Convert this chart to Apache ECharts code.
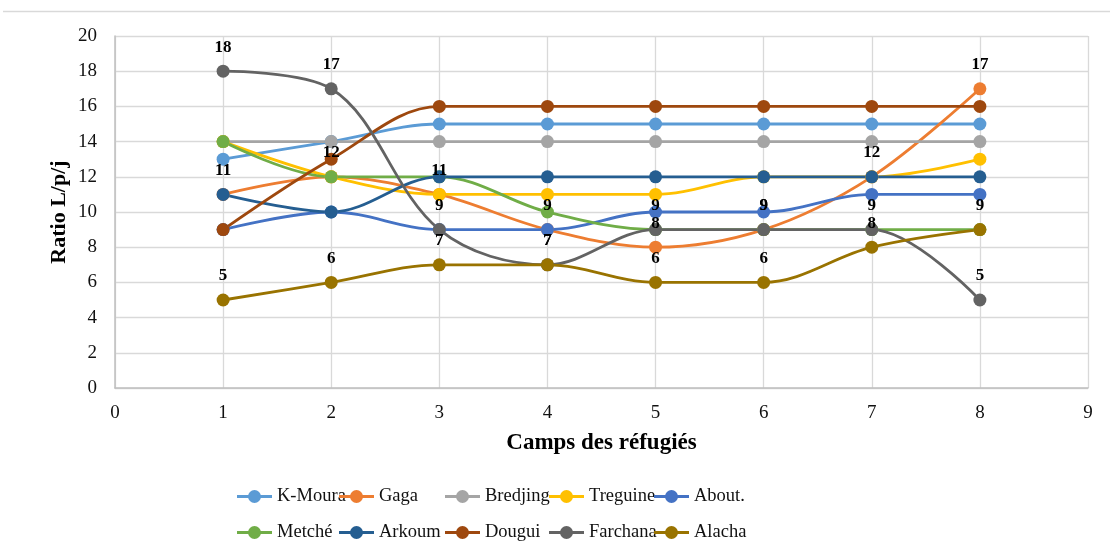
<!DOCTYPE html>
<html>
<head>
<meta charset="utf-8">
<script src="https://cdn.jsdelivr.net/npm/echarts@6/dist/echarts.min.js"></script>
<style>
  html, body { margin: 0; padding: 0; background: #fff; }
  #chart { width: 1110px; height: 554px; }
</style>
</head>
<body>
<div id="chart"></div>
<script>
// Camp numbers along the x axis
const camps = [1, 2, 3, 4, 5, 6, 7, 8];

// Ratio L/p/j per site, one value per camp
const kMoura   = [13, 14, 15, 15, 15, 15, 15, 15];
const gaga     = [11, 12, 11, 9, 8, 9, 12, 17];
const bredjing = [14, 14, 14, 14, 14, 14, 14, 14];
const treguine = [14, 12, 11, 11, 11, 12, 12, 13];
const about    = [9, 10, 9, 9, 10, 10, 11, 11];
const metche   = [14, 12, 12, 10, 9, 9, 9, 9];
const arkoum   = [11, 10, 12, 12, 12, 12, 12, 12];
const dougui   = [9, 13, 16, 16, 16, 16, 16, 16];
const farchana = [18, 17, 9, 7, 9, 9, 9, 5];
const alacha   = [5, 6, 7, 7, 6, 6, 8, 9];

const seriesDefs = [
  { name: 'K-Moura',  values: kMoura,   color: '#5B9BD5', labels: false },
  { name: 'Gaga',     values: gaga,     color: '#ED7D31', labels: true },
  { name: 'Bredjing', values: bredjing, color: '#A5A5A5', labels: false },
  { name: 'Treguine', values: treguine, color: '#FFC000', labels: false },
  { name: 'About.',   values: about,    color: '#4472C4', labels: false },
  { name: 'Metché',   values: metche,   color: '#70AD47', labels: false },
  { name: 'Arkoum',   values: arkoum,   color: '#255E91', labels: false },
  { name: 'Dougui',   values: dougui,   color: '#9E480E', labels: false },
  { name: 'Farchana', values: farchana, color: '#636363', labels: true },
  { name: 'Alacha',   values: alacha,   color: '#997300', labels: true }
];

// Legend laid out as a 5-column, 2-row table
const legendColumns = [
  ['K-Moura', 'Metché'],
  ['Gaga', 'Arkoum'],
  ['Bredjing', 'Dougui'],
  ['Treguine', 'Farchana'],
  ['About.', 'Alacha']
];
const legendLeft = [237, 339, 445, 549, 654];

// Legend key: a 3px stroke with a round marker in the middle (35 x 13 box)
const legendKey = 'path://M0,5 L35,5 L35,8 L0,8 Z ' +
  'M11,6.5 A6.5,6.5 0 1,1 24,6.5 A6.5,6.5 0 1,1 11,6.5 Z';

const serif = '"Liberation Serif", "Times New Roman", serif';

const chart = echarts.init(document.getElementById('chart'), null, { renderer: 'canvas' });

const option = {
  animation: false,
  backgroundColor: '#ffffff',
  textStyle: { fontFamily: serif },
  graphic: [{
    type: 'line',
    shape: { x1: 3, y1: 11.5, x2: 1110, y2: 11.5 },
    style: { stroke: '#D9D9D9', lineWidth: 1.5 },
    silent: true
  }],
  grid: { left: 115, right: 22, top: 36, bottom: 166 },
  xAxis: {
    type: 'value',
    min: 0, max: 9, interval: 1,
    name: 'Camps des réfugiés',
    nameLocation: 'middle',
    nameGap: 44,
    nameTextStyle: { fontFamily: serif, fontWeight: 'bold', fontSize: 23, color: '#000' },
    axisLine: { show: true, lineStyle: { color: '#BFBFBF', width: 1.5 } },
    axisTick: { show: false },
    axisLabel: { fontFamily: serif, fontSize: 19, color: '#111', margin: 16 },
    splitLine: { show: true, lineStyle: { color: '#D9D9D9', width: 1.3 } }
  },
  yAxis: {
    type: 'value',
    min: 0, max: 20, interval: 2,
    name: 'Ratio L/p/j',
    nameLocation: 'middle',
    nameGap: 45,
    nameMoveOverlap: false,
    nameTextStyle: { fontFamily: serif, fontWeight: 'bold', fontSize: 22, color: '#000' },
    axisLine: { show: true, lineStyle: { color: '#BFBFBF', width: 1.5 } },
    axisTick: { show: false },
    axisLabel: { fontFamily: serif, fontSize: 19, color: '#111', margin: 18 },
    splitLine: { show: true, lineStyle: { color: '#D9D9D9', width: 1.3 } }
  },
  legend: legendColumns.map((names, i) => ({
    orient: 'vertical',
    left: legendLeft[i],
    top: 487,
    icon: legendKey,
    itemWidth: 35,
    itemHeight: 13,
    itemGap: 17,
    padding: 0,
    data: names,
    textStyle: { fontFamily: serif, fontSize: 18.5, color: '#111' }
  })),
  series: seriesDefs.map(s => ({
    name: s.name,
    type: 'line',
    data: camps.map((c, i) => [c, s.values[i]]),
    smooth: 0.35,
    symbol: 'circle',
    symbolSize: 13,
    color: s.color,
    lineStyle: { color: s.color, width: 2.8 },
    itemStyle: { color: s.color },
    label: {
      show: s.labels,
      position: 'top',
      distance: 9,
      fontFamily: serif,
      fontWeight: 'bold',
      fontSize: 17,
      color: '#000',
      formatter: p => p.value[1]
    },
    labelLayout: { hideOverlap: false },
    emphasis: { disabled: true }
  }))
};

chart.setOption(option);
</script>
</body>
</html>
